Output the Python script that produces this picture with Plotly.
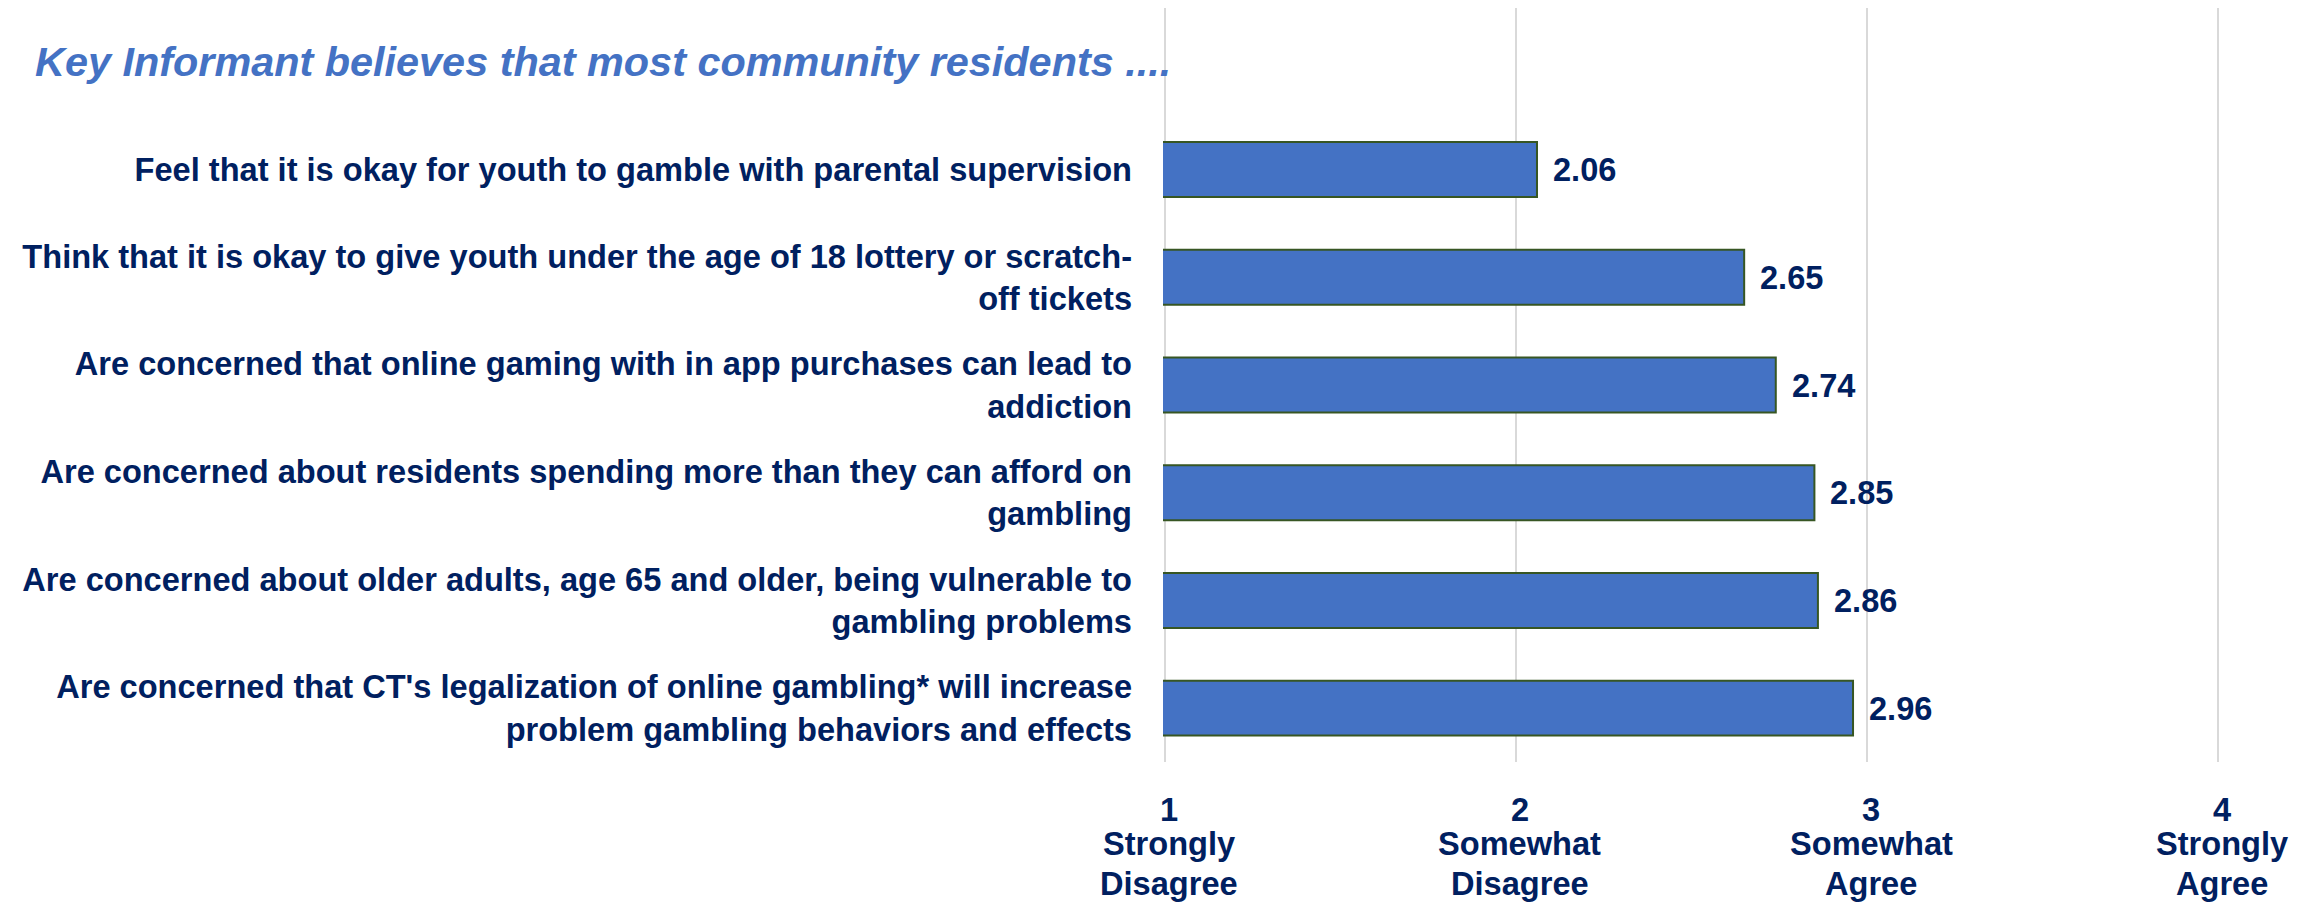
import plotly.graph_objects as go

# ---- data ----
header = "Key Informant believes that most community residents ...."
categories = [
    "Feel that it is okay for youth to gamble with parental supervision",
    "Think that it is okay to give youth under the age of 18 lottery or scratch-<br>off tickets",
    "Are concerned that online gaming with in app purchases can lead to<br>addiction",
    "Are concerned about residents spending more than they can afford on<br>gambling",
    "Are concerned about older adults, age 65 and older, being vulnerable to<br>gambling problems",
    "Are concerned that CT's legalization of online gambling* will increase<br>problem gambling behaviors and effects",
]
values = [2.06, 2.65, 2.74, 2.85, 2.86, 2.96]
tick_values = [1, 2, 3, 4]
tick_numbers = ["1", "2", "3", "4"]
tick_words = [["Strongly", "Disagree"], ["Somewhat", "Disagree"],
              ["Somewhat", "Agree"], ["Strongly", "Agree"]]

NAVY = "#002060"
BLUE = "#4472C4"
FONT = "Liberation Sans, Arial, sans-serif"
LBL = 32.6

fig = go.Figure()
fig.add_trace(go.Bar(
    x=values, y=categories, orientation="h",
    marker=dict(color=BLUE, line=dict(color="#375623", width=2)),
    width=0.51, hoverinfo="skip",
))

# page body has an 8px margin: figure coordinates are page coordinates minus 8
W, H = 2317, 902
ml, mr, mt, mb = 1155, 105, 0, 148

annotations = []
# value labels
for c, v in zip(categories, values):
    annotations.append(dict(x=v, y=c, xref="x", yref="y", text=f"<b>{v:.2f}</b>",
                            showarrow=False, xanchor="left", yanchor="middle",
                            xshift=14, font=dict(family=FONT, size=LBL, color=NAVY)))
# header (category-like row above bars)
annotations.append(dict(x=(25 - ml) / (W - ml - mr), y=-1, xref="paper", yref="y",
                        text=f"<b><i>{header}</i></b>", showarrow=False,
                        xanchor="left", yanchor="middle",
                        font=dict(family=FONT, size=41.4, color=BLUE)))
# x axis labels (per line)
plot_h = H - mt - mb
def ypaper(px):
    return (H - mb - px) / plot_h
for tv, num, words in zip(tick_values, tick_numbers, tick_words):
    for txt, cy in zip([num] + words, [801, 835, 875]):
        annotations.append(dict(x=tv, y=ypaper(cy), xref="x", yref="paper",
                                text=f"<b>{txt}</b>", showarrow=False,
                                xanchor="center", yanchor="middle", xshift=4,
                                font=dict(family=FONT, size=LBL, color=NAVY)))

fig.update_layout(
    width=W, height=H,
    margin=dict(l=ml, r=mr, t=mt, b=mb, pad=0, autoexpand=False),
    paper_bgcolor="white", plot_bgcolor="white",
    showlegend=False,
    font=dict(family=FONT, size=LBL, color=NAVY),
    annotations=annotations,
    xaxis=dict(range=[0.995, 4.005], tickvals=tick_values, showticklabels=False,
               showgrid=True, gridcolor="#D9D9D9", gridwidth=2, automargin=False,
               zeroline=False, showline=False, ticks=""),
    yaxis=dict(type="category", categoryorder="array", categoryarray=categories,
               range=[5.5, -1.5], showgrid=False, zeroline=False, showline=False,
               ticks="", ticklabelstandoff=30, automargin=False,
               tickfont=dict(family=FONT, size=LBL, color=NAVY)),
)
fig.update_yaxes(ticktext=[f"<b>{c}</b>" for c in categories], tickvals=categories)

fig.write_html("out.html")
